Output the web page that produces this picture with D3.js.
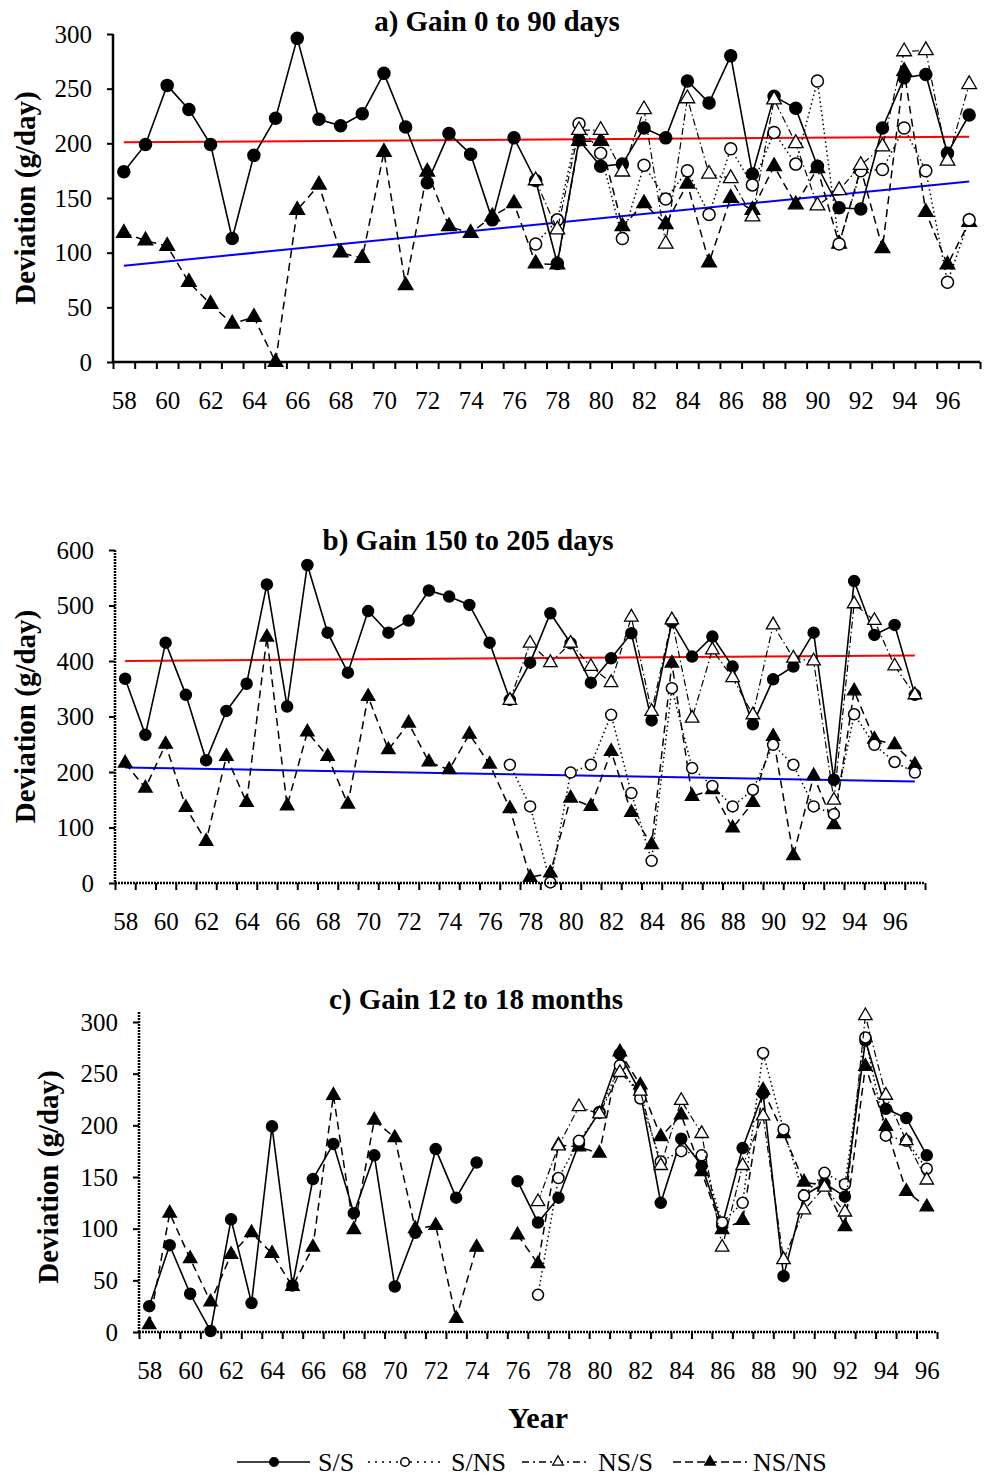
<!DOCTYPE html>
<html>
<head>
<meta charset="utf-8">
<script src="https://cdn.jsdelivr.net/npm/d3@7"></script>
<style>
  body { margin: 0; background: #fff; }
  svg, svg text { font-family: "Liberation Serif", "Times New Roman", serif; }
</style>
</head>
<body>
<svg width="989" height="1479"></svg>
<script>
// categories
const yearsAB = [58,59,60,61,62,63,64,65,66,67,68,69,70,71,72,73,74,75,76,77,
                 78,79,80,81,82,83,84,85,86,87,88,89,90,91,92,93,94,95,96,97];
const yearsC  = [58,59,60,61,62,63,64,65,66,67,68,69,70,71,72,73,74,75,76,77,
                 78,79,80,81,82,83,84,85,86,87,88,89,90,91,92,93,94,95,96];
const yearLabels = [58,60,62,64,66,68,70,72,74,76,78,80,82,84,86,88,90,92,94,96];

// a) Gain 0 to 90 days
const ssA   = [174,199,253,231,199,113,189,223,296,222,216,227,264,215,164,209,190,130,205,166,
               90,203,179,181,214,205,257,237,280,172,243,232,179,141,140,214,260,263,191,226];
const snsA  = [null,null,null,null,null,null,null,null,null,null,null,null,null,null,null,null,null,null,null,108,
               130,218,191,113,180,149,175,135,195,162,210,181,257,108,175,176,214,175,73,130];
const nssA  = [null,null,null,null,null,null,null,null,null,null,null,null,null,null,null,null,null,null,null,166,
               121,212,212,174,231,108,241,172,168,133,240,200,143,157,180,197,284,285,184,254];
const nsnsA = [118,111,106,73,53,35,41,0,139,162,100,95,192,70,174,124,118,133,145,90,
               89,202,202,124,145,126,163,91,150,139,179,144,177,108,177,104,266,137,89,128];
const trendA_ss   = [201, 206];   // 58 -> 97
const trendA_nsns = [88, 165];

// b) Gain 150 to 205 days
const ssB   = [368,267,433,339,221,310,359,538,318,573,451,379,490,451,473,527,516,501,433,330,
               397,486,432,361,405,450,293,470,408,444,390,286,367,390,451,186,544,447,465,339];
const snsB  = [null,null,null,null,null,null,null,null,null,null,null,null,null,null,null,null,null,null,null,213,
               138,1,199,213,303,162,40,351,207,175,138,168,249,213,138,124,304,249,218,199];
const nssB  = [null,null,null,null,null,null,null,null,null,null,null,null,null,null,null,null,null,null,null,329,
               432,397,432,390,361,479,309,474,297,420,370,303,465,405,400,149,503,473,391,339];
const nsnsB = [216,171,250,136,75,228,145,443,139,272,228,142,336,240,288,218,204,268,214,134,
               10,18,153,138,237,127,69,396,156,168,99,145,264,49,193,105,346,259,249,213];
const trendB_ss   = [400, 410];
const trendB_nsns = [208, 183];
const trendYears  = [58, 97];

// c) Gain 12 to 18 months
const ssC   = [25,84,37,1,109,28,199,45,148,182,115,171,44,96,177,130,164,null,146,106,
               130,182,213,269,232,125,187,161,103,178,231,54,132,144,131,282,216,207,171];
const snsC  = [null,null,null,null,null,null,null,null,null,null,null,null,null,null,null,null,null,null,null,36,
               149,185,212,258,226,165,175,171,106,125,270,196,132,154,143,285,190,185,158];
const nssC  = [null,null,null,null,null,null,null,null,null,null,null,null,null,null,null,null,null,null,null,126,
               180,218,211,251,233,161,224,192,82,161,209,70,118,140,116,306,229,185,147];
const nsnsC = [7,115,71,29,75,96,76,44,82,229,99,205,188,100,103,13,82,null,94,66,
               181,179,173,271,239,189,210,155,99,108,234,192,145,142,102,257,199,136,121];

const ticksA = [0,50,100,150,200,250,300];
const ticksB = [0,100,200,300,400,500,600];
const ticksC = [0,50,100,150,200,250,300];

const seriesNames = ['S/S','S/NS','NS/S','NS/NS'];

const FONT = '"Liberation Serif", "Times New Roman", serif';

// series styles
const styles = {
  'S/S':   {dash: null,        width: 1.6, shape: 'circle',   fill: '#000'},
  'S/NS':  {dash: '1.5,3',     width: 1.5, shape: 'circle',   fill: '#fff'},
  'NS/S':  {dash: '7,3,1.5,3', width: 1.2, shape: 'triangle', fill: '#fff'},
  'NS/NS': {dash: '8,5',       width: 1.5, shape: 'triangle', fill: '#000'}
};
const legendDash = {'S/S': null, 'S/NS': '2,5', 'NS/S': '7,4,2,4', 'NS/NS': '8,4'};
const drawOrder = ['NS/NS','S/S','S/NS','NS/S'];

const panels = [
  {title: 'a) Gain 0 to 90 days', titleX: 497, titleY: 31,
   years: yearsAB, ymax: 300, ticks: ticksA,
   left: 113, right: 980, top: 34, bottom: 362, axisTop: 34, dotted: false,
   labelX: 25, r: 6,
   data: {'S/S': ssA, 'S/NS': snsA, 'NS/S': nssA, 'NS/NS': nsnsA},
   trends: [{v: trendA_ss, color: '#ff0000'}, {v: trendA_nsns, color: '#0000ff'}]},
  {title: 'b) Gain 150 to 205 days', titleX: 468, titleY: 550,
   years: yearsAB, ymax: 600, ticks: ticksB,
   left: 115, right: 925, top: 550, bottom: 883, axisTop: 550, dotted: true,
   labelX: 25, r: 5.5,
   data: {'S/S': ssB, 'S/NS': snsB, 'NS/S': nssB, 'NS/NS': nsnsB},
   trends: [{v: trendB_ss, color: '#ff0000'}, {v: trendB_nsns, color: '#0000ff'}]},
  {title: 'c) Gain 12 to 18 months', titleX: 476, titleY: 1009,
   years: yearsC, ymax: 300, ticks: ticksC,
   left: 139, right: 937, top: 1022, bottom: 1332, axisTop: 1012, dotted: true,
   labelX: 48, r: 5.5,
   data: {'S/S': ssC, 'S/NS': snsC, 'NS/S': nssC, 'NS/NS': nsnsC},
   trends: []}
];

const svg = d3.select('svg');

function marker(g, shape, fill, r, x, y) {
  if (shape === 'circle') {
    g.append('circle').attr('cx', x).attr('cy', y).attr('r', r)
      .attr('fill', fill).attr('stroke', '#000').attr('stroke-width', 1.5);
  } else {
    g.append('path')
      .attr('d', d3.symbol().type(d3.symbolTriangle).size(r * r * 2.6)())
      .attr('transform', `translate(${x},${y})`)
      .attr('fill', fill).attr('stroke', '#000').attr('stroke-width', 1.3);
  }
}

panels.forEach(p => {
  const first = p.years[0], last = p.years[p.years.length - 1];
  const x = d3.scaleLinear().domain([first - 0.5, last + 0.5]).range([p.left, p.right]);
  const y = d3.scaleLinear().domain([0, p.ymax]).range([p.bottom, p.top]);
  const g = svg.append('g');

  // trend lines
  p.trends.forEach(t => {
    g.append('line')
      .attr('x1', x(trendYears[0])).attr('x2', x(trendYears[1]))
      .attr('y1', y(t.v[0])).attr('y2', y(t.v[1]))
      .attr('stroke', t.color).attr('stroke-width', 2);
  });

  // series
  drawOrder.forEach(name => {
    const st = styles[name];
    const pts = p.years.map((yr, i) => ({yr, v: p.data[name][i]}));
    const line = d3.line().defined(d => d.v != null)
      .x(d => x(d.yr)).y(d => y(d.v));
    g.append('path').datum(pts)
      .attr('d', line)
      .attr('fill', 'none').attr('stroke', '#000')
      .attr('stroke-width', st.width)
      .attr('stroke-dasharray', st.dash);
    pts.filter(d => d.v != null).forEach(d => marker(g, st.shape, st.fill, p.r, x(d.yr), y(d.v)));
  });

  // y axis
  const ya = g.append('g').attr('transform', `translate(${p.left},0)`)
    .call(d3.axisLeft(y).tickValues(p.ticks).tickSize(6).tickSizeOuter(0).tickPadding(15));
  ya.attr('font-family', FONT);
  ya.select('.domain').remove();
  ya.selectAll('line').attr('stroke-width', 2);
  ya.selectAll('text').attr('font-size', 25).attr('fill', '#000');
  g.append('line').attr('x1', p.left).attr('x2', p.left)
    .attr('y1', p.axisTop).attr('y2', p.bottom)
    .attr('stroke', '#000').attr('stroke-width', 2.5)
    .attr('stroke-dasharray', p.dotted ? '2,1' : null);

  // x axis: boundary ticks and year labels
  const bounds = p.years.map(yr => yr - 0.5).concat([last + 0.5]);
  const xt = g.append('g').attr('transform', `translate(0,${p.bottom})`)
    .call(d3.axisBottom(x).tickValues(bounds).tickSize(7).tickFormat(''));
  xt.select('.domain').remove();
  xt.selectAll('line').attr('stroke-width', 2);
  const xl = g.append('g').attr('transform', `translate(0,${p.bottom})`)
    .call(d3.axisBottom(x).tickValues(yearLabels).tickSize(0).tickPadding(29).tickFormat(d3.format('d')));
  xl.attr('font-family', FONT);
  xl.select('.domain').remove();
  xl.selectAll('text').attr('font-size', 25).attr('fill', '#000');
  g.append('line').attr('x1', p.left).attr('x2', p.right)
    .attr('y1', p.bottom).attr('y2', p.bottom)
    .attr('stroke', '#000').attr('stroke-width', 2.5)
    .attr('stroke-dasharray', p.dotted ? '2,1' : null);

  // title and y label
  g.append('text').attr('x', p.titleX).attr('y', p.titleY)
    .attr('text-anchor', 'middle').attr('font-weight', 'bold').attr('font-size', 29)
    .text(p.title);
  g.append('text')
    .attr('transform', `translate(${p.labelX},${(p.top + p.bottom) / 2}) rotate(-90)`)
    .attr('text-anchor', 'middle').attr('dominant-baseline', 'central')
    .attr('font-weight', 'bold').attr('font-size', 29)
    .text('Deviation (g/day)');
});

// x title
svg.append('text').attr('x', 538).attr('y', 1428)
  .attr('text-anchor', 'middle').attr('font-weight', 'bold').attr('font-size', 30)
  .text('Year');

// legend
const legendPos = [
  {x1: 237, x2: 310, mx: 274, tx: 318},
  {x1: 368, x2: 445, mx: 405, tx: 451},
  {x1: 522, x2: 590, mx: 558, tx: 598},
  {x1: 673, x2: 747, mx: 710, tx: 753}
];
const lg = svg.append('g');
seriesNames.forEach((name, i) => {
  const st = styles[name], lp = legendPos[i], ly = 1462;
  lg.append('line').attr('x1', lp.x1).attr('x2', lp.x2).attr('y1', ly).attr('y2', ly)
    .attr('stroke', '#000').attr('stroke-width', 1.5).attr('stroke-dasharray', legendDash[name]);
  marker(lg, st.shape, st.fill, 4.3, lp.mx, ly);
  lg.append('text').attr('x', lp.tx).attr('y', ly).attr('dy', '0.35em')
    .attr('font-size', 26).text(name);
});
</script>
</body>
</html>
